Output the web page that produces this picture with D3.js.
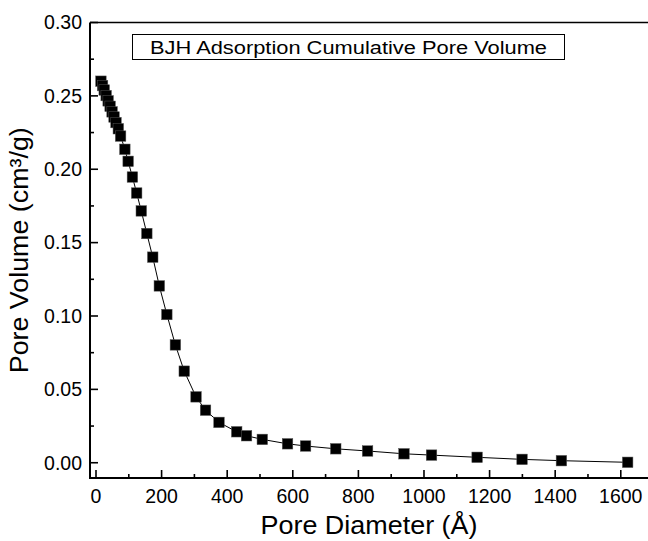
<!DOCTYPE html>
<html>
<head>
<meta charset="utf-8">
<script src="https://cdn.jsdelivr.net/npm/d3@7"></script>
<style>
  html, body { margin: 0; padding: 0; background: #fff; }
  svg { display: block; font-family: "Liberation Sans", Arial, sans-serif; }
</style>
</head>
<body>
<svg id="chart" width="648" height="541"></svg>
<script>
// ---- data ----
const poreDiameter = [15, 20, 25, 31, 37, 43, 49, 55, 61, 68, 75, 88, 98, 111, 124, 138, 155, 173, 193, 216, 242, 269, 305, 334, 375, 429, 459, 507, 584, 639, 731, 828, 939, 1023, 1162, 1299, 1419, 1621];
const poreVolume = [0.2600, 0.2570, 0.2540, 0.2502, 0.2466, 0.2429, 0.2391, 0.2356, 0.2318, 0.2276, 0.2226, 0.2136, 0.2054, 0.1947, 0.1838, 0.1716, 0.1562, 0.1401, 0.1205, 0.1010, 0.0803, 0.0624, 0.0449, 0.0358, 0.0275, 0.0211, 0.0184, 0.0159, 0.0129, 0.0114, 0.0095, 0.0080, 0.0061, 0.0052, 0.0037, 0.0023, 0.0014, 0.0003];
const xTicks = [0, 200, 400, 600, 800, 1000, 1200, 1400, 1600];
const yTicks = [0.00, 0.05, 0.10, 0.15, 0.20, 0.25, 0.30];
const legendLabel = "BJH Adsorption Cumulative Pore Volume";
const xTitle = "Pore Diameter (Å)";
const yTitle = "Pore Volume (cm³/g)";

const svg = d3.select("#chart");
const L = 90, R = 648, T = 22.5, B = 478;

const x = d3.scaleLinear().domain([-18.3, 1683]).range([L, R]);
const y = d3.scaleLinear().domain([-0.0104, 0.30]).range([B, T]);

const xMinor = d3.range(100, 1700, 200);
const yMinor = d3.range(0.025, 0.30, 0.05);

// top frame line
svg.append("line").attr("x1", L).attr("x2", R).attr("y1", T).attr("y2", T)
  .attr("stroke", "#000").attr("stroke-width", 1.6);

// x axis
const xAxis = svg.append("g").attr("transform", `translate(0,${B})`);
xAxis.append("line").attr("x1", L).attr("x2", R).attr("stroke", "#000").attr("stroke-width", 2);
xAxis.selectAll(".maj").data(xTicks).join("line")
  .attr("x1", d => x(d)).attr("x2", d => x(d)).attr("y1", 0).attr("y2", -8)
  .attr("stroke", "#000").attr("stroke-width", 1.6);
xAxis.selectAll(".min").data(xMinor).join("line")
  .attr("x1", d => x(d)).attr("x2", d => x(d)).attr("y1", 0).attr("y2", -4)
  .attr("stroke", "#000").attr("stroke-width", 1.6);
xAxis.selectAll("text").data(xTicks).join("text")
  .attr("x", d => x(d)).attr("y", 25).attr("text-anchor", "middle")
  .attr("font-size", 19.5).attr("fill", "#000").text(d => d);

// y axis
const yAxis = svg.append("g").attr("transform", `translate(${L},0)`);
yAxis.append("line").attr("y1", T).attr("y2", B + 1).attr("stroke", "#000").attr("stroke-width", 2);
yAxis.selectAll(".maj").data(yTicks).join("line")
  .attr("y1", d => y(d)).attr("y2", d => y(d)).attr("x1", 0).attr("x2", 8)
  .attr("stroke", "#000").attr("stroke-width", 1.6);
yAxis.selectAll(".min").data(yMinor).join("line")
  .attr("y1", d => y(d)).attr("y2", d => y(d)).attr("x1", 0).attr("x2", 4)
  .attr("stroke", "#000").attr("stroke-width", 1.6);
yAxis.selectAll("text").data(yTicks).join("text")
  .attr("x", -8).attr("y", d => y(d)).attr("dy", "0.35em").attr("text-anchor", "end")
  .attr("font-size", 19.5).attr("fill", "#000").text(d => d.toFixed(2));

// axis titles
svg.append("text").attr("x", (L + R) / 2).attr("y", 534).attr("text-anchor", "middle")
  .attr("font-size", 25).attr("textLength", 217).attr("lengthAdjust", "spacingAndGlyphs")
  .attr("fill", "#000").text(xTitle);
svg.append("text").attr("transform", `translate(28,${(T + B) / 2}) rotate(-90)`)
  .attr("text-anchor", "middle").attr("font-size", 25).attr("textLength", 246)
  .attr("lengthAdjust", "spacingAndGlyphs").attr("fill", "#000").text(yTitle);

// legend box
svg.append("rect").attr("x", 132.5).attr("y", 34.5).attr("width", 432).attr("height", 25)
  .attr("fill", "#fff").attr("stroke", "#000").attr("stroke-width", 1);
svg.append("text").attr("x", 348.5).attr("y", 53.5).attr("text-anchor", "middle")
  .attr("font-size", 17.5).attr("textLength", 397).attr("lengthAdjust", "spacingAndGlyphs")
  .attr("fill", "#000").text(legendLabel);

// data
const pts = poreDiameter.map((d, i) => ({ d, v: poreVolume[i] }));
svg.append("path").datum(pts)
  .attr("d", d3.line().x(p => x(p.d)).y(p => y(p.v)))
  .attr("fill", "none").attr("stroke", "#000").attr("stroke-width", 1);
const s = 10.5;
svg.selectAll(".pt").data(pts).join("rect")
  .attr("x", p => x(p.d) - s / 2).attr("y", p => y(p.v) - s / 2)
  .attr("width", s).attr("height", s)
  .attr("fill", "#000").attr("stroke", "#555").attr("stroke-width", 0.5);
</script>
</body>
</html>
